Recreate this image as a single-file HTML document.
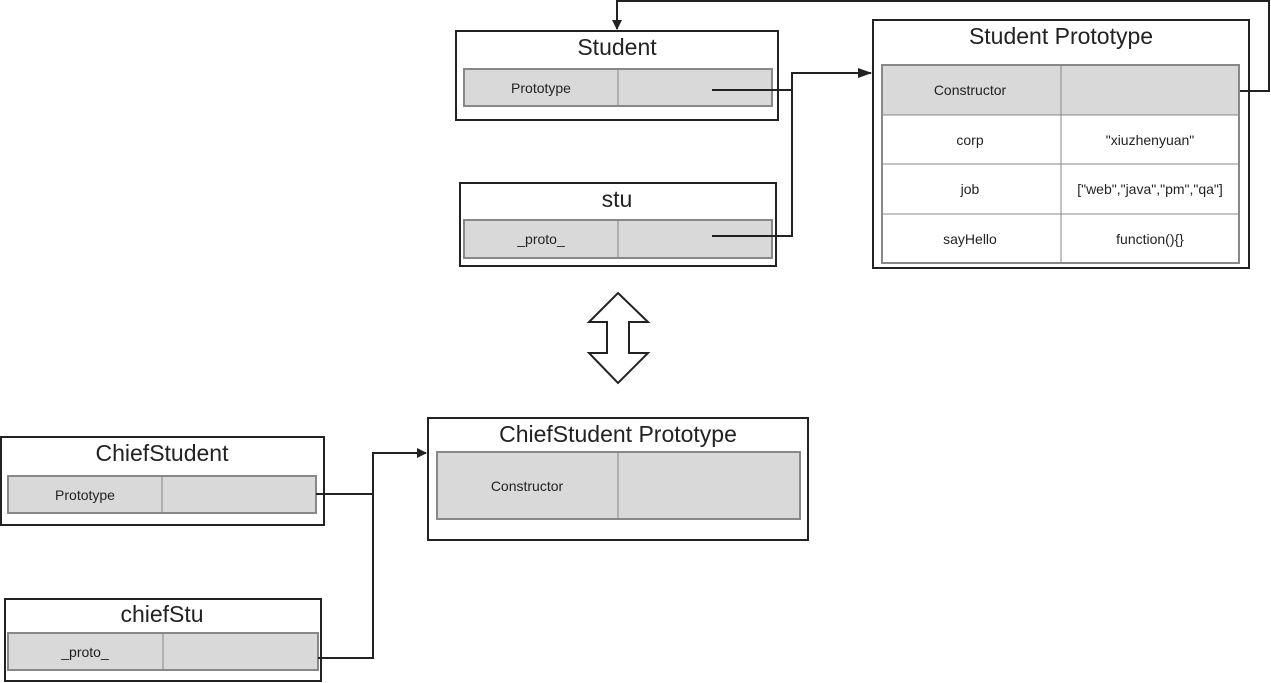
<!DOCTYPE html>
<html><head><meta charset="utf-8"><style>
html,body{margin:0;padding:0;background:#fff;}
svg{display:block;}
text{font-family:"Liberation Sans",sans-serif;fill:#222;}
.t{font-size:23px;text-anchor:middle;}
.c{font-size:14px;text-anchor:middle;}
.box{fill:#fff;stroke:#222;stroke-width:2;}
.cell{fill:#d9d9d9;stroke:#888;stroke-width:2;}
.ln{fill:none;stroke:#222;stroke-width:2;}
</style></head><body>
<svg width="1271" height="683" viewBox="0 0 1271 683">
<defs><marker id="a" markerWidth="10" markerHeight="10" refX="9" refY="5" orient="auto" markerUnits="userSpaceOnUse"><path d="M0,0 L10,5 L0,10 z" fill="#222"/></marker>
<marker id="b" markerWidth="14" markerHeight="10" refX="13" refY="5" orient="auto" markerUnits="userSpaceOnUse"><path d="M0,0 L14,5 L0,10 z" fill="#222"/></marker></defs>

<!-- Student -->
<rect class="box" x="456" y="31" width="322" height="89"/>
<text class="t" x="617" y="55">Student</text>
<rect class="cell" x="464" y="69" width="308" height="37"/>
<line x1="618" y1="69" x2="618" y2="106" stroke="#888" stroke-width="1"/>
<text class="c" x="541" y="93">Prototype</text>

<!-- stu -->
<rect class="box" x="460" y="183" width="316" height="83"/>
<text class="t" x="617" y="207">stu</text>
<rect class="cell" x="464" y="220" width="308" height="38"/>
<line x1="618" y1="220" x2="618" y2="258" stroke="#888" stroke-width="1"/>
<text class="c" x="541" y="244">_proto_</text>

<!-- Student Prototype -->
<rect class="box" x="873" y="20" width="376" height="248"/>
<text class="t" x="1061" y="44">Student Prototype</text>
<rect x="882" y="65" width="357" height="50" fill="#d9d9d9"/>
<rect x="882" y="65" width="357" height="198" fill="none" stroke="#888" stroke-width="2"/>
<line x1="1061" y1="65" x2="1061" y2="263" stroke="#888" stroke-width="1"/>
<line x1="882" y1="115" x2="1239" y2="115" stroke="#888" stroke-width="1"/>
<line x1="882" y1="164" x2="1239" y2="164" stroke="#888" stroke-width="1"/>
<line x1="882" y1="214" x2="1239" y2="214" stroke="#888" stroke-width="1"/>
<text class="c" x="970" y="95">Constructor</text>
<text class="c" x="970" y="145">corp</text>
<text class="c" x="1150" y="145">"xiuzhenyuan"</text>
<text class="c" x="970" y="194">job</text>
<text class="c" x="1150" y="194">["web","java","pm","qa"]</text>
<text class="c" x="970" y="244">sayHello</text>
<text class="c" x="1150" y="244">function(){}</text>

<!-- connectors top -->
<path class="ln" d="M712,90 H792 V73 H871" marker-end="url(#b)"/>
<path class="ln" d="M712,236 H792 V90"/>
<path class="ln" d="M1240,91 H1269 V1 H617 V29" marker-end="url(#a)"/>

<!-- double arrow -->
<path d="M618,293 L648,322 H629 V353 H648 L618,383 L589,353 H607 V322 H589 Z" fill="#fff" stroke="#222" stroke-width="2"/>

<!-- ChiefStudent -->
<rect class="box" x="1" y="437" width="323" height="88"/>
<text class="t" x="162" y="461">ChiefStudent</text>
<rect class="cell" x="8" y="476" width="308" height="37"/>
<line x1="162" y1="476" x2="162" y2="513" stroke="#888" stroke-width="1"/>
<text class="c" x="85" y="500">Prototype</text>

<!-- chiefStu -->
<rect class="box" x="5" y="599" width="316" height="82"/>
<text class="t" x="162" y="622">chiefStu</text>
<rect class="cell" x="8" y="633" width="310" height="37"/>
<line x1="163" y1="633" x2="163" y2="670" stroke="#888" stroke-width="1"/>
<text class="c" x="85" y="657">_proto_</text>

<!-- ChiefStudent Prototype -->
<rect class="box" x="428" y="418" width="380" height="122"/>
<text class="t" x="618" y="442">ChiefStudent Prototype</text>
<rect class="cell" x="437" y="452" width="363" height="67"/>
<line x1="618" y1="452" x2="618" y2="519" stroke="#888" stroke-width="1"/>
<text class="c" x="527" y="491">Constructor</text>

<path class="ln" d="M316,494 H373 V453 H426" marker-end="url(#a)"/>
<path class="ln" d="M318,658 H373 V494"/>
</svg>
</body></html>
